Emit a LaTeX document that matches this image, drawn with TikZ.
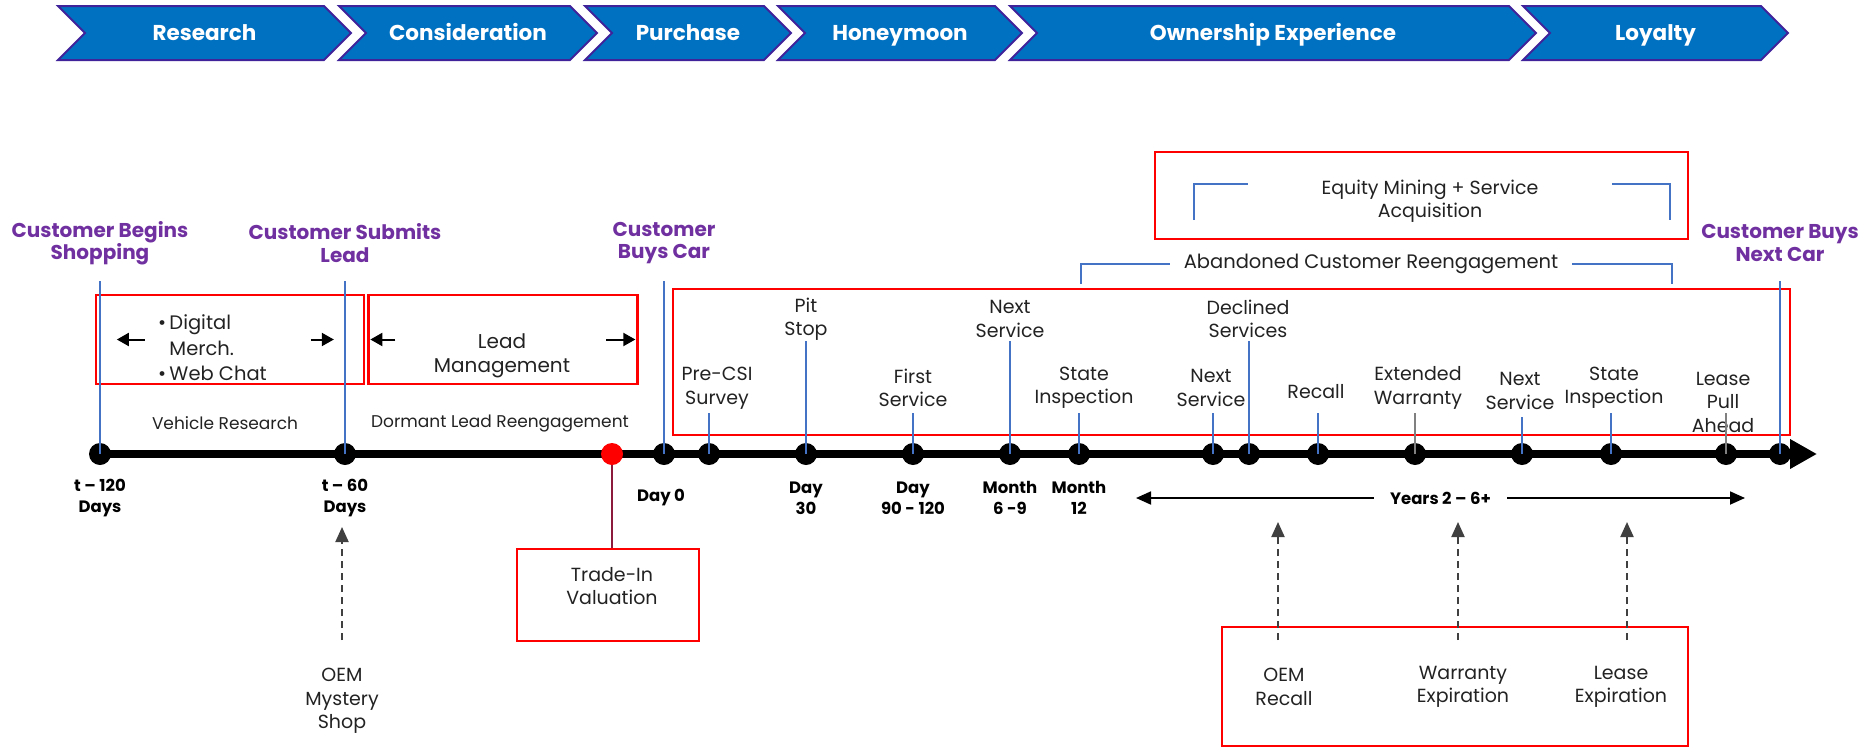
\documentclass[tikz,border=0pt]{standalone}
\usepackage{fontspec}
\setmainfont{Poppins}
\usetikzlibrary{arrows.meta, positioning, calc}
\definecolor{chevblue}{HTML}{0070C0}
\definecolor{chevline}{HTML}{40239A}
\definecolor{mspurple}{HTML}{7030A0}
\definecolor{tickblue}{HTML}{4472C4}
\definecolor{boxred}{HTML}{FF0000}
\definecolor{tradeline}{HTML}{8B1A3C}
\definecolor{dashgray}{HTML}{404040}
\definecolor{txt}{HTML}{222222}

\newcommand{\chevfont}{\fontsize{21.5}{25}\selectfont\bfseries}
\newcommand{\msfont}{\fontsize{20}{22.5}\selectfont\bfseries}
\newcommand{\dayfont}{\fontsize{16.5}{21}\selectfont\bfseries}
\newcommand{\evtfont}{\fontsize{19}{23.5}\selectfont}
\newcommand{\leadfont}{\fontsize{20}{24}\selectfont}
\newcommand{\smallfont}{\fontsize{17}{20}\selectfont}

\begin{document}
\begin{tikzpicture}[x=1pt, y=-1pt,
    chev/.style={fill=chevblue, draw=chevline, line width=2pt},
    chevtext/.style={text=white, font=\chevfont, text height=15pt, text depth=4pt},
    ms/.style={text=mspurple, font=\msfont, align=center},
    day/.style={text=black, font=\dayfont, align=center},
    evt/.style={text=txt, font=\evtfont, align=center, inner sep=2pt},
    dot/.style={circle, fill=black, minimum size=22pt, inner sep=0pt},
    redbox/.style={draw=boxred, line width=2.3pt},
    tick/.style={draw=tickblue, line width=1.5pt},
    graytick/.style={draw=gray, line width=1.5pt},
    axis/.style={line width=8pt, -{Triangle[length=27pt, width=28pt]}},
    smarr/.style={line width=2pt, -{Triangle[length=12pt, width=13pt]}},
    yrarr/.style={line width=1.8pt, {Triangle[length=15pt, width=13pt]}-{Triangle[length=15pt, width=13pt]}},
    dasharr/.style={draw=dashgray, line width=2pt, dash pattern=on 7pt off 5pt,
      -{Triangle[length=15pt, width=13pt]}}
  ]
  \useasboundingbox (0,0) rectangle (1871,747);

  % phases
  \foreach \a/\b/\t [count=\i] in {58/324/Research, 339/570/Consideration,
      585/764/Purchase, 778/995/Honeymoon, 1010/1509/Ownership Experience,
      1523/1761/Loyalty} {
    \draw[chev] (\a,6) -- (\b,6) -- (\b+27,33) -- (\b,60) -- (\a,60)
      -- (\a+27,33) -- cycle;
    \node[chevtext] (ph\i) at ({(\a+\b+27)/2},35) {\t};
  }

  % red boxes
  \node[redbox, minimum width=268pt, minimum height=89pt] (bx1) at (230,339.5) {};
  \node[redbox, minimum width=269pt, minimum height=89pt] (bx2) at (503,339.5) {};
  \node[redbox, minimum width=1117pt, minimum height=146pt] (bx3) at (1231.5,362) {};
  \node[redbox, minimum width=533pt, minimum height=87pt] (bx4) at (1421.5,195.5) {};
  \node[redbox, minimum width=182pt, minimum height=92pt] (bx5) at (608,595) {};
  \node[redbox, minimum width=466pt, minimum height=119pt] (bx6) at (1455,686.5) {};

  % axis
  \coordinate (ax0) at (100,454);
  \coordinate (axend) at (1817,454);
  \draw[axis] (ax0) -- (axend);

  % milestones
  \foreach \x/\t/\n in {100/{Customer Begins\\Shopping}/m1,
      345/{Customer Submits\\Lead}/m2, 664/{Customer\\Buys Car}/m3,
      1780/{Customer Buys\\Next Car}/m4} {
    \node[dot] (\n) at (\x,454) {};
    \node[ms] (\n-lbl) at (\x,243) {\t};
    \draw[tick] (\n.center) -- (\n |- 0,281);
  }

  % events after purchase
  \foreach \x/\n/\t/\lx/\ly/\ty/\s in {
      709/e1/{Pre-CSI\\Survey}/717/388/413/tick,
      806/e2/{Pit\\Stop}/806/319/341/tick,
      913/e3/{First\\Service}/913/388/413/tick,
      1010/e4/{Next\\Service}/1010/319/341/tick,
      1079/e5/{State\\Inspection}/1084/388/413/tick,
      1213/e6/{Next\\Service}/1211/388/413/tick,
      1249/e7/{Declined\\Services}/1248/319/341/tick,
      1318/e8/{Recall}/1316/392/413/tick,
      1415/e9/{Extended\\Warranty}/1418/388/413/graytick,
      1522/e10/{Next\\Service}/1520/391/417/tick,
      1611/e11/{State\\Inspection}/1614/388/413/tick,
      1726/e12/{Lease\\Pull\\Ahead}/1723/402/413/graytick} {
    \node[dot] (\n) at (\x,454) {};
    \node[evt] (\n-lbl) at (\lx,\ly) {\t};
    \draw[\s] (\n.center) -- (\n |- 0,\ty);
  }

  % time labels
  \foreach \x/\t [count=\i] in {100/{t – 120\\Days}, 345/{t – 60\\Days},
      661/{Day 0}, 806/{Day\\30}, 913/{Day\\90 - 120}, 1010/{Month\\6 -9},
      1079/{Month\\12}}
    \node[day] (day\i) at (\x,498) {\t};

  % before purchase
  \node[evt, font=\fontsize{19.5}{25.5}\selectfont, align=left, anchor=west] (dig)
    at (156,348) {\textbullet\,Digital\\\phantom{\textbullet\,}Merch.\\\textbullet\,Web Chat};
  \draw[smarr] ([xshift=50pt]bx1.west) -- ([xshift=22pt]bx1.west);
  \draw[smarr] ([xshift=216pt]bx1.west) -- ([xshift=239pt]bx1.west);
  \node[evt, font=\leadfont] (lead) at (502,356) {Lead\\Management};
  \draw[smarr] ([xshift=28pt]bx2.west) -- ([xshift=3pt]bx2.west);
  \draw[smarr] ([xshift=239pt]bx2.west) -- ([xshift=268pt]bx2.west);
  \node[evt, font=\smallfont] (vres) at (225,423) {Vehicle Research};
  \node[evt, font=\smallfont] (dorm) at (500,423) {Dormant Lead Reengagement};

  % trade-in
  \node[dot, fill=red] (rd) at (612,454) {};
  \draw[tradeline, line width=1.5pt] (rd) -- (rd |- bx5.north);
  \node[evt] (trade) at (612,586) {Trade-In\\Valuation};

  % ownership brackets
  \node[evt] (eq) at (1430,201) {Equity Mining + Service\\Acquisition};
  \draw[tick] (1194,220) -- (1194,184) -- (1248,184);
  \draw[tick] (1612,184) -- (1670,184) -- (1670,220);
  \node[evt, font=\fontsize{19.5}{23}\selectfont, inner xsep=14pt] (abd) at (1371,264)
    {Abandoned Customer Reengagement};
  \draw[tick] (1081,284) |- (abd.west);
  \draw[tick] (abd.east) -| (1672,284);

  % years
  \coordinate (yl) at (1136,498);
  \coordinate (yr) at (1745,498);
  \draw[yrarr] (yl) -- node[day, fill=white, inner xsep=16pt] (yrs) {Years 2 – 6+} (yr);

  % triggers
  \node[evt] (mys) at (342,701) {OEM\\Mystery\\Shop};
  \draw[dasharr] (mys.north |- 0,640) -- (mys.north |- 0,527);
  \foreach \x/\lx/\t/\n in {1278/1284/{OEM\\Recall}/r1,
      1458/1463/{Warranty\\Expiration}/r2, 1627/1621/{Lease\\Expiration}/r3} {
    \node[evt] (\n) at (\lx,687) {\t};
    \draw[dasharr] (\x,640) -- (\x,522);
  }
\end{tikzpicture}
\end{document}
